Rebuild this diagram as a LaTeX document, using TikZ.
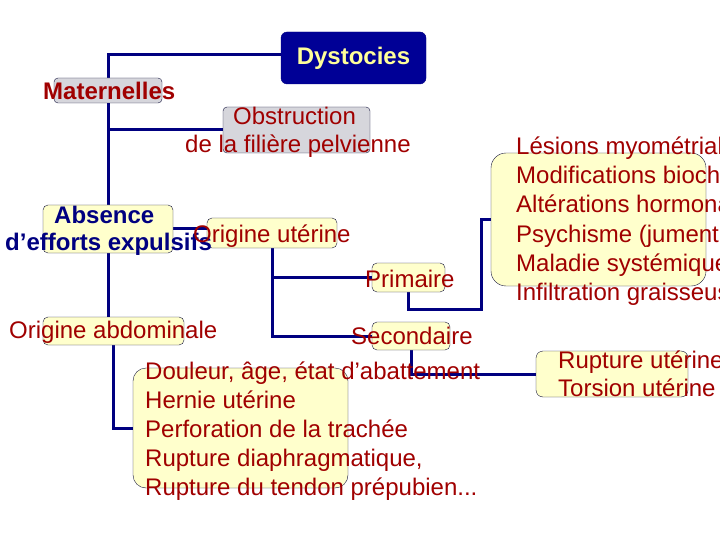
\documentclass[tikz,border=0pt]{standalone}
\usepackage{fontspec}
\setmainfont{Liberation Sans}
\usepackage{tikz}
\usetikzlibrary{positioning,backgrounds}
\definecolor{dyNavy}{RGB}{0,0,128}
\definecolor{dyRootFill}{RGB}{0,0,150}
\definecolor{dyYellow}{RGB}{255,255,153}
\definecolor{dyRed}{RGB}{160,0,0}
\definecolor{dyEdge}{RGB}{20,20,60}
\definecolor{dyGray}{RGB}{214,214,220}
\definecolor{dyCream}{RGB}{255,255,204}
\newcommand{\dyFont}{\fontsize{24}{29}\selectfont}
\tikzset{
  dyRoot/.style={draw=dyNavy, fill=dyRootFill, rounded corners=6pt,
                 inner sep=0pt, font=\dyFont\bfseries, text=dyYellow},
  dyGrey/.style={draw=dyEdge, fill=dyGray, rounded corners=4pt, thin,
                 inner sep=0pt},
  dyBox/.style={draw=dyEdge, fill=dyCream, rounded corners=#1, thin,
                inner sep=0pt},
  dyBox/.default=5pt,
  dyText/.style={anchor=base west, inner sep=0pt, font=\dyFont, text=dyRed},
  dyHead/.style={dyText, font=\dyFont\bfseries},
  dyLink/.style={draw=dyNavy, line width=3pt}
}
\begin{document}
\begin{tikzpicture}[x=1pt,y=-1pt]
  \useasboundingbox (0,0) rectangle (720,540);
  \clip (0,0) rectangle (720,540);

  % boxes
  \node[dyRoot, minimum width=145pt, minimum height=52pt] (dyst) at (353.5,58) {Dystocies};
  \node[dyGrey, minimum width=108pt, minimum height=25pt] (mat) at (108,90.5) {};
  \node[dyGrey, minimum width=147pt, minimum height=46pt] (obst) at (296.5,130) {};
  \node[dyBox, minimum width=130pt, minimum height=48pt] (abs) at (108,229) {};
  \node[dyBox, minimum width=130pt, minimum height=30pt] (uter) at (272,233) {};
  \node[dyBox, minimum width=73pt, minimum height=29pt] (prim) at (408.5,277.5) {};
  \node[dyBox, minimum width=78pt, minimum height=28pt] (seco) at (411,336) {};
  \node[dyBox, minimum width=141pt, minimum height=28pt] (abdo) at (113.5,331) {};
  \node[dyBox=13pt, minimum width=215pt, minimum height=120pt] (doul) at (240.5,428) {};
  \node[dyBox=15pt, minimum width=215pt, minimum height=133pt] (lesi) at (598.5,219.5) {};
  \node[dyBox=7pt, minimum width=152pt, minimum height=46pt] (rupt) at (612,374) {};
  \coordinate (primjog) at (481,309);

  % connectors
  \begin{scope}[on background layer]
    \draw[dyLink] ([yshift=3pt]dyst.west) -| (mat.center) -- (mat.center |- abdo.north);
    \draw[dyLink] (obst.west) -- (obst.west -| mat.center);
    \draw[dyLink] (abs.east) -- (abs.east -| uter.west);
    \draw[dyLink] (uter.south) |- (seco.west);
    \draw[dyLink] (prim.west) -| (uter.south);
    \draw[dyLink] (prim.south) |- (primjog) |- (lesi.west);
    \draw[dyLink] (seco.south) |- (rupt.west);
    \draw[dyLink] (abdo.south) |- (doul.west);
  \end{scope}

  % texts
  \node[dyHead] (matT) at (43,100) {Maternelles};
  \node[dyText] (obstT1) at (233,125) {Obstruction};
  \node[dyText] (obstT2) at (185,153) {de la filière pelvienne};
  \node[dyHead, text=dyNavy] (absT1) at (54,223) {Absence};
  \node[dyHead, text=dyNavy] (absT2) at (5,251) {d’efforts expulsifs};
  \node[dyText] (uterT) at (193,242) {Origine utérine};
  \node[dyText] (primT) at (365,287) {Primaire};
  \node[dyText] (secoT) at (351,344) {Secondaire};
  \node[dyText] (abdoT) at (9,338) {Origine abdominale};

  \node[dyText] (doulT1) at (145,379) {Douleur, âge, état d’abattement};
  \node[dyText] (doulT2) at (145,408) {Hernie utérine};
  \node[dyText] (doulT3) at (145,437) {Perforation de la trachée};
  \node[dyText] (doulT4) at (145,466) {Rupture diaphragmatique,};
  \node[dyText] (doulT5) at (145,495) {Rupture du tendon prépubien...};

  \node[dyText] (lesiT1) at (516,155) {Lésions myométrial};
  \node[dyText] (lesiT2) at (516,184) {Modifications bioch};
  \node[dyText] (lesiT3) at (516,213) {Altérations hormona};
  \node[dyText] (lesiT4) at (516,242) {Psychisme (jument};
  \node[dyText] (lesiT5) at (516,271) {Maladie systémique};
  \node[dyText] (lesiT6) at (516,300) {Infiltration graisseus};

  \node[dyText] (ruptT1) at (558,368) {Rupture utérine};
  \node[dyText] (ruptT2) at (558,396) {Torsion utérine};
\end{tikzpicture}
\end{document}
